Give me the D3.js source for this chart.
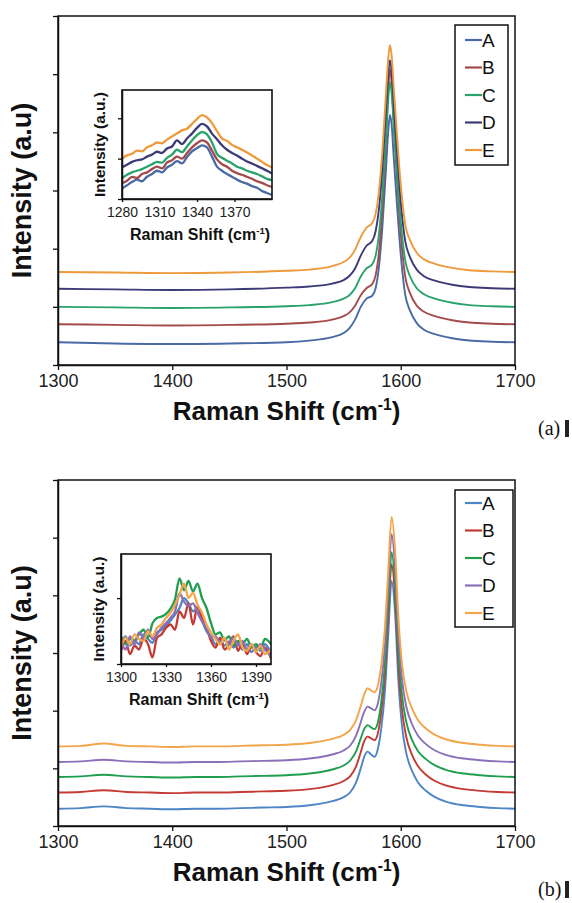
<!DOCTYPE html>
<html>
<head>
<meta charset="utf-8">
<script src="https://cdn.jsdelivr.net/npm/d3@7"></script>
<style>
  body { margin: 0; background: #fff; }
  svg { display: block; font-family: Arial, 'Liberation Sans', sans-serif; }
</style>
</head>
<body>
<svg id="chart" width="572" height="903"></svg>
<script>
// ---- data ----
const seriesNames = ['A', 'B', 'C', 'D', 'E'];
const colorsA = ['#4a6aa5', '#a54a4c', '#2aa36b', '#3d3a78', '#ee9a3c'];
const colorsB = ['#4d85c5', '#c43b35', '#1e9e4e', '#8b6fb8', '#f2a54a'];

const mainTicks = [1300, 1400, 1500, 1600, 1700];

// panel (a) main spectra
const shiftA = [1300, 1350, 1400, 1450, 1500, 1520, 1540, 1550, 1555, 1560, 1565, 1570, 1575, 1578, 1581, 1584, 1587, 1589, 1590.5, 1592, 1594, 1597, 1600, 1604, 1608, 1614, 1620, 1630, 1645, 1660, 1680, 1700];
const panelA_A = [3.9, 3.7, 3.6, 3.7, 3.9, 4.2, 4.8, 5.5, 6.3, 7.8, 10.0, 11.4, 11.9, 13.2, 17.0, 24.0, 33.5, 40.0, 43.0, 41.3, 35.3, 26.7, 19.0, 12.0, 9.4, 7.2, 6.1, 5.3, 4.6, 4.2, 4.0, 3.9];
const panelA_B = [7.0, 6.9, 6.8, 6.9, 7.1, 7.3, 7.8, 8.4, 9.0, 10.2, 12.0, 13.2, 13.9, 15.4, 19.5, 27.0, 38.0, 47.0, 51.0, 48.5, 41.0, 31.0, 22.5, 15.1, 12.4, 10.2, 9.2, 8.4, 7.7, 7.3, 7.1, 7.0];
const panelA_C = [10.0, 9.9, 9.8, 9.9, 10.1, 10.3, 10.8, 11.4, 12.0, 13.2, 15.2, 16.6, 17.3, 18.8, 22.6, 29.5, 39.0, 45.5, 48.6, 46.8, 40.8, 32.2, 24.6, 17.9, 15.3, 13.2, 12.2, 11.4, 10.7, 10.3, 10.1, 10.0];
const panelA_D = [13.1, 13.0, 12.9, 13.0, 13.3, 13.5, 14.0, 14.6, 15.3, 16.6, 18.8, 20.5, 21.3, 23.0, 27.0, 34.0, 43.5, 49.8, 52.4, 50.6, 44.5, 35.8, 28.0, 21.2, 18.6, 16.4, 15.3, 14.5, 13.8, 13.4, 13.2, 13.1];
const panelA_E = [16.0, 15.9, 15.8, 15.9, 16.2, 16.4, 17.0, 17.7, 18.4, 19.8, 22.0, 23.6, 24.4, 26.0, 30.0, 37.0, 46.5, 52.5, 55.0, 53.3, 47.3, 38.7, 31.0, 24.1, 21.5, 19.3, 18.2, 17.4, 16.7, 16.3, 16.1, 16.0];

// panel (a) inset, D band
const insetShiftA = [1280, 1284, 1288, 1292, 1296, 1300, 1304, 1308, 1312, 1316, 1320, 1324, 1328, 1332, 1336, 1340, 1344, 1348, 1352, 1356, 1360, 1364, 1368, 1372, 1376, 1380, 1384, 1388, 1392, 1396, 1400];
const insetA_A = [0.26, 0.34, 0.42, 0.48, 0.44, 0.55, 0.62, 0.70, 0.66, 0.78, 0.85, 0.94, 0.88, 1.04, 1.18, 1.26, 1.33, 1.28, 1.05, 0.80, 0.70, 0.62, 0.55, 0.48, 0.42, 0.38, 0.32, 0.28, 0.20, 0.15, 0.10];
const insetA_B = [0.39, 0.45, 0.55, 0.52, 0.62, 0.66, 0.74, 0.80, 0.76, 0.90, 0.96, 1.05, 1.00, 1.14, 1.28, 1.38, 1.45, 1.40, 1.20, 0.98, 0.86, 0.80, 0.70, 0.64, 0.60, 0.55, 0.50, 0.44, 0.40, 0.34, 0.30];
const insetA_C = [0.51, 0.60, 0.66, 0.70, 0.74, 0.80, 0.86, 0.92, 0.90, 1.02, 1.10, 1.22, 1.16, 1.30, 1.45, 1.58, 1.66, 1.60, 1.40, 1.12, 1.02, 0.95, 0.88, 0.80, 0.76, 0.70, 0.66, 0.62, 0.56, 0.50, 0.47];
const insetA_D = [0.78, 0.85, 0.92, 0.96, 0.98, 1.05, 1.10, 1.17, 1.14, 1.25, 1.30, 1.45, 1.36, 1.50, 1.62, 1.76, 1.86, 1.80, 1.62, 1.48, 1.33, 1.22, 1.14, 1.08, 1.00, 0.93, 0.88, 0.82, 0.76, 0.70, 0.63];
const insetA_E = [1.00, 1.08, 1.12, 1.20, 1.18, 1.28, 1.33, 1.40, 1.38, 1.47, 1.55, 1.62, 1.70, 1.74, 1.86, 1.98, 2.08, 2.02, 1.88, 1.68, 1.50, 1.44, 1.34, 1.28, 1.22, 1.15, 1.08, 1.00, 0.92, 0.84, 0.78];

// panel (b) main spectra
const shiftB = [1300, 1320, 1340, 1360, 1380, 1400, 1420, 1440, 1460, 1480, 1500, 1520, 1540, 1550, 1556, 1561, 1565, 1568, 1571, 1574, 1577, 1580, 1583, 1586, 1589, 1592, 1595, 1598, 1601, 1605, 1610, 1615, 1622, 1630, 1640, 1655, 1670, 1685, 1700];
const panelB_A = [3.0, 3.1, 3.4, 3.1, 3.0, 2.9, 3.0, 3.0, 3.1, 3.2, 3.3, 3.6, 4.3, 5.0, 5.9, 7.6, 10.0, 12.0, 12.9, 12.4, 12.0, 13.4, 17.0, 23.0, 33.0, 42.5, 37.0, 25.0, 17.5, 12.5, 9.5, 7.6, 6.1, 5.0, 4.2, 3.6, 3.3, 3.1, 3.0];
const panelB_B = [5.8, 5.9, 6.2, 5.9, 5.8, 5.7, 5.8, 5.8, 5.9, 6.0, 6.1, 6.4, 7.1, 7.8, 8.7, 10.4, 12.8, 14.7, 15.5, 15.2, 14.9, 16.1, 19.8, 25.8, 35.8, 45.4, 39.8, 27.8, 20.3, 15.3, 12.3, 10.4, 8.9, 7.8, 7.0, 6.4, 6.1, 5.9, 5.8];
const panelB_C = [8.5, 8.6, 8.9, 8.6, 8.5, 8.4, 8.5, 8.5, 8.6, 8.7, 8.8, 9.1, 9.8, 10.5, 11.4, 13.0, 15.2, 16.8, 17.5, 17.1, 16.8, 18.0, 21.6, 27.8, 38.0, 47.5, 42.0, 30.4, 22.9, 17.9, 14.9, 13.0, 11.6, 10.5, 9.7, 9.1, 8.8, 8.6, 8.5];
const panelB_D = [11.1, 11.2, 11.5, 11.2, 11.1, 11.0, 11.1, 11.1, 11.2, 11.3, 11.4, 11.7, 12.4, 13.1, 14.0, 15.7, 18.0, 19.8, 20.7, 20.4, 20.1, 21.3, 24.9, 31.0, 41.0, 50.6, 45.0, 33.2, 25.6, 20.6, 17.6, 15.7, 14.2, 13.1, 12.3, 11.7, 11.4, 11.2, 11.1];
const panelB_E = [13.8, 13.9, 14.3, 13.9, 13.8, 13.7, 13.8, 13.8, 13.9, 14.0, 14.1, 14.4, 15.1, 15.8, 16.7, 18.4, 20.8, 22.8, 23.9, 23.5, 23.2, 24.4, 28.0, 34.0, 44.0, 53.6, 48.0, 36.0, 28.3, 23.3, 20.3, 18.4, 16.9, 15.8, 15.0, 14.4, 14.1, 13.9, 13.8];

// panel (b) inset, D band
const insetShiftB = [1300, 1303, 1306, 1309, 1312, 1315, 1318, 1321, 1324, 1327, 1330, 1333, 1336, 1339, 1342, 1345, 1348, 1351, 1354, 1357, 1360, 1363, 1366, 1369, 1372, 1375, 1378, 1381, 1384, 1387, 1390, 1393, 1396, 1400];
const insetB_A = [0.30, 0.42, 0.28, 0.35, 0.30, 0.45, 0.38, 0.32, 0.48, 0.52, 0.58, 0.66, 0.75, 0.85, 1.00, 0.92, 0.80, 0.85, 0.66, 0.50, 0.42, 0.30, 0.38, 0.28, 0.34, 0.25, 0.32, 0.22, 0.30, 0.18, 0.26, 0.20, 0.30, 0.15];
const insetB_B = [0.20, 0.35, 0.15, 0.28, 0.22, 0.38, 0.30, 0.10, 0.40, 0.45, 0.55, 0.60, 0.52, 0.80, 0.70, 0.92, 0.60, 0.88, 0.70, 0.55, 0.35, 0.25, 0.40, 0.22, 0.30, 0.42, 0.20, 0.32, 0.15, 0.28, 0.18, 0.12, 0.25, 0.08];
const insetB_C = [0.42, 0.30, 0.38, 0.36, 0.45, 0.52, 0.40, 0.62, 0.70, 0.72, 0.76, 0.84, 0.98, 1.30, 1.12, 1.26, 1.10, 1.22, 1.00, 0.85, 0.62, 0.45, 0.48, 0.36, 0.42, 0.28, 0.35, 0.30, 0.38, 0.25, 0.30, 0.24, 0.38, 0.30];
const insetB_D = [0.35, 0.22, 0.42, 0.30, 0.48, 0.40, 0.52, 0.38, 0.45, 0.55, 0.62, 0.70, 0.80, 1.07, 0.95, 0.88, 0.92, 0.78, 0.65, 0.55, 0.40, 0.42, 0.32, 0.38, 0.30, 0.40, 0.28, 0.35, 0.22, 0.30, 0.20, 0.30, 0.22, 0.12];
const insetB_E = [0.25, 0.40, 0.30, 0.45, 0.38, 0.35, 0.50, 0.42, 0.55, 0.60, 0.70, 0.78, 0.90, 1.05, 1.22, 1.00, 1.08, 0.90, 0.78, 0.60, 0.48, 0.38, 0.30, 0.40, 0.22, 0.35, 0.45, 0.25, 0.20, 0.30, 0.18, 0.28, 0.15, 0.22];

// ---- drawing helpers ----
const svg = d3.select('#chart');

// pair each value list with the shared shift axis
const toSeries = function (xs, ys, colors){
	return ys.map((vals, i) => ({
		name: seriesNames[i],
		color: colors[i],
		values: vals.map((v, j) => ({ x: xs[j], y: v }))
	}));
};

/**
 * Raman Shift (cm-1) label with a small superscript
 */
const shiftLabel = function (sel, size){
	sel.attr('font-weight', 'bold')
	   .attr('font-size', size)
	   .attr('fill', '#111');
	sel.append('tspan').text('Raman Shift (cm');
	sel.append('tspan').text('-1')
	   .attr('font-size', size * 0.6)
	   .attr('dy', -size * 0.38);
	sel.append('tspan').text(')')
	   .attr('dy', size * 0.38);
};

const drawLines = function (props, g){
	let line = d3.line().curve(d3.curveMonotoneX)
		.x(d => props.xScale(d.x))
		.y(d => props.yScale(d.y));

	g.selectAll('path.spec')
	 .data(props.data)
	 .enter()
	 .append('path')
	 .classed('spec', true)
	 .attr('d', d => line(d.values))
	 .attr('fill', 'none')
	 .attr('stroke', d => d.color)
	 .attr('stroke-width', props.lineWidth)
	 .attr('stroke-linejoin', 'round');
};

const styleAxis = function (g, fontSize){
	g.selectAll('path.domain').attr('stroke', '#111').attr('stroke-width', 1.5);
	g.selectAll('.tick line').attr('stroke', '#111').attr('stroke-width', 1.3);
	g.selectAll('.tick text')
	 .attr('font-family', 'Arial, Liberation Sans, sans-serif')
	 .attr('font-size', fontSize)
	 .attr('fill', '#222');
};

/**
 * main spectrum panel with box, axes, legend and tag
 */
const drawPanel = function (props){
	let g = svg.append('g');

	props.xScale = d3.scaleLinear().domain([1300, 1700]).range([props.left, props.right]);
	props.yScale = d3.scaleLinear().domain([0, 60]).range([props.bottom, props.top]);

	drawLines(props, g);

	// box
	g.append('rect')
	 .attr('x', props.left).attr('y', props.top)
	 .attr('width', props.right - props.left)
	 .attr('height', props.bottom - props.top)
	 .attr('fill', 'none').attr('stroke', '#111').attr('stroke-width', 1.5);

	let gX = g.append('g')
		.attr('transform', `translate(0, ${props.bottom})`)
		.call(d3.axisBottom(props.xScale).tickValues(mainTicks).tickFormat(d3.format('d'))
			.tickSize(5).tickSizeOuter(0).tickPadding(4));
	styleAxis(gX, 18);

	let gY = g.append('g')
		.attr('transform', `translate(${props.left}, 0)`)
		.call(d3.axisLeft(props.yScale).tickValues([0, 10, 20, 30, 40, 50, 60])
			.tickFormat('').tickSize(5).tickSizeOuter(0));
	styleAxis(gY, 18);

	// axis titles
	g.append('text')
	 .attr('x', (props.left + props.right) / 2)
	 .attr('y', props.bottom + 55)
	 .attr('text-anchor', 'middle')
	 .call(shiftLabel, 26);

	g.append('text')
	 .attr('transform', `translate(31, ${(props.top + props.bottom) / 2}) rotate(-90)`)
	 .attr('text-anchor', 'middle')
	 .attr('font-weight', 'bold')
	 .attr('font-size', 27)
	 .attr('fill', '#111')
	 .text('Intensity (a.u)');

	// legend
	let lg = g.append('g');
	lg.append('rect')
	  .attr('x', props.legend.x).attr('y', props.legend.y)
	  .attr('width', props.legend.w).attr('height', props.legend.h)
	  .attr('fill', '#fff').attr('stroke', '#111').attr('stroke-width', 1.5);

	let items = lg.selectAll('g.item')
		.data(props.data)
		.enter()
		.append('g')
		.attr('transform', (d, i) => `translate(${props.legend.x}, ${props.legend.y + props.legend.first + i * props.legend.step})`);
	items.append('line')
		 .attr('x1', 10).attr('x2', 27)
		 .attr('stroke', d => d.color).attr('stroke-width', 2.2);
	items.append('text')
		 .attr('x', 27).attr('dy', '0.36em')
		 .attr('font-size', 19).attr('fill', '#111')
		 .text(d => d.name);

	// panel tag
	g.append('text')
	 .attr('x', 538).attr('y', props.bottom + props.tagDy)
	 .attr('font-family', 'Liberation Serif, Times New Roman, serif')
	 .attr('font-size', 20).attr('fill', '#111')
	 .text(props.tag);
	g.append('rect')
	 .attr('x', 565).attr('y', props.bottom + props.tagDy - 15)
	 .attr('width', 4).attr('height', 17).attr('fill', '#222');

	return props;
};

/**
 * inset showing the D band
 */
const drawInset = function (props){
	let g = svg.append('g');

	props.xScale = d3.scaleLinear().domain(props.xDomain).range([props.left, props.right]);
	props.yScale = d3.scaleLinear().domain(props.yDomain).range([props.bottom, props.top]);

	g.append('rect')
	 .attr('x', props.left).attr('y', props.top)
	 .attr('width', props.right - props.left)
	 .attr('height', props.bottom - props.top)
	 .attr('fill', '#fff');

	let clipId = 'clip-' + props.tag;
	g.append('clipPath').attr('id', clipId)
	 .append('rect')
	 .attr('x', props.left).attr('y', props.top)
	 .attr('width', props.right - props.left)
	 .attr('height', props.bottom - props.top);

	let lines = g.append('g').attr('clip-path', `url(#${clipId})`);
	drawLines(props, lines);

	g.append('rect')
	 .attr('x', props.left).attr('y', props.top)
	 .attr('width', props.right - props.left)
	 .attr('height', props.bottom - props.top)
	 .attr('fill', 'none').attr('stroke', '#111').attr('stroke-width', 1.6);

	let gX = g.append('g')
		.attr('transform', `translate(0, ${props.bottom})`)
		.call(d3.axisBottom(props.xScale).tickValues(props.xTicks).tickFormat(d3.format('d'))
			.tickSize(3).tickSizeOuter(0).tickPadding(5));
	styleAxis(gX, 14);

	let gY = g.append('g')
		.attr('transform', `translate(${props.left}, 0)`)
		.call(d3.axisLeft(props.yScale).tickValues(props.yTicks).tickFormat('')
			.tickSize(4).tickSizeOuter(0));
	styleAxis(gY, 14);

	g.append('text')
	 .attr('x', (props.left + props.right) / 2 + 3)
	 .attr('y', props.bottom + 41)
	 .attr('text-anchor', 'middle')
	 .call(shiftLabel, 16);

	g.append('text')
	 .attr('transform', `translate(${props.left - 17}, ${(props.top + props.bottom) / 2}) rotate(-90)`)
	 .attr('text-anchor', 'middle')
	 .attr('font-weight', 'bold')
	 .attr('font-size', 15.5)
	 .attr('fill', '#111')
	 .text('Intensity (a.u.)');

	return props;
};

// ---- panel (a) ----
drawPanel({
	tag: '(a)', tagDy: 70,
	left: 58, right: 515, top: 16, bottom: 365,
	lineWidth: 1.9,
	data: toSeries(shiftA, [panelA_A, panelA_B, panelA_C, panelA_D, panelA_E], colorsA),
	legend: { x: 455, y: 25, w: 53, h: 140, first: 15, step: 27.5 }
});

drawInset({
	tag: 'a',
	left: 122, right: 272, top: 90, bottom: 199,
	xDomain: [1280, 1400], yDomain: [0, 2.7],
	xTicks: [1280, 1310, 1340, 1370], yTicks: [0, 1, 2],
	lineWidth: 2.3,
	data: toSeries(insetShiftA, [insetA_A, insetA_B, insetA_C, insetA_D, insetA_E], colorsA)
});

// ---- panel (b) ----
drawPanel({
	tag: '(b)', tagDy: 70,
	left: 58, right: 515, top: 480, bottom: 826,
	lineWidth: 1.9,
	data: toSeries(shiftB, [panelB_A, panelB_B, panelB_C, panelB_D, panelB_E], colorsB),
	legend: { x: 455, y: 490, w: 58, h: 137, first: 13, step: 27.5 }
});

drawInset({
	tag: 'b',
	left: 121, right: 271, top: 554, bottom: 664,
	xDomain: [1300, 1400], yDomain: [0, 1.67],
	xTicks: [1300, 1330, 1360, 1390], yTicks: [0, 1],
	lineWidth: 2.3,
	data: toSeries(insetShiftB, [insetB_A, insetB_B, insetB_C, insetB_D, insetB_E], colorsB)
});
</script>
</body>
</html>
